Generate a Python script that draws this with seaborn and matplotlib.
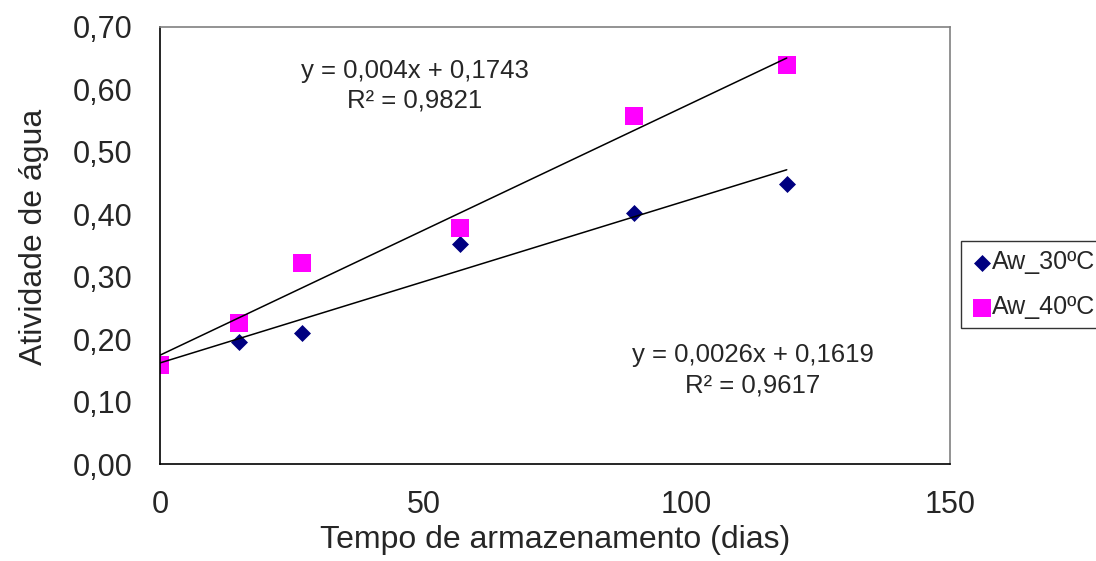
import numpy as np
import pandas as pd
import matplotlib
matplotlib.use("Agg")
import matplotlib.pyplot as plt
import seaborn as sns

# dados
dias = [0, 15, 27, 57, 90, 119]
aw_30 = [0.158, 0.195, 0.210, 0.352, 0.402, 0.449]
aw_40 = [0.158, 0.226, 0.322, 0.378, 0.558, 0.639]

# coeficientes das linhas de tendencia (inclinacao, intercepto)
coef_30 = [0.0026, 0.1619]
coef_40 = [0.004, 0.1743]
eq_30 = "y = 0,0026x + 0,1619\nR² = 0,9617"
eq_40 = "y = 0,004x + 0,1743\nR² = 0,9821"

df30 = pd.DataFrame({"dias": dias, "aw": aw_30})
df40 = pd.DataFrame({"dias": dias, "aw": aw_40})

sns.set_style("white")
plt.rcParams["font.family"] = ["Liberation Sans", "DejaVu Sans"]

fig = plt.figure(figsize=(10.96, 5.61), dpi=100)
ax = fig.add_axes([0.146, 0.1729, 0.7208, 0.779])

sns.scatterplot(data=df30, x="dias", y="aw", marker="D", color="#000080",
                s=75, linewidth=0, ax=ax, zorder=2, label="Aw_30ºC")
sns.scatterplot(data=df40, x="dias", y="aw", marker="s", color="#FF00FF",
                s=150, linewidth=0, ax=ax, zorder=2, label="Aw_40ºC")

# linhas de tendencia
xs = np.array([dias[0], dias[-1]])
for a, b in (coef_30, coef_40):
    ax.plot(xs, a * xs + b, color="black", lw=1.1, zorder=3)

ax.text(48.4, 0.606, eq_40, ha="center", va="center", fontsize=18.5,
        multialignment="center", linespacing=1.32)
ax.text(112.6, 0.150, eq_30, ha="center", va="center", fontsize=18.5,
        multialignment="center", linespacing=1.32)

ax.set_xlim(0, 150)
ax.set_ylim(0, 0.70)
ax.set_xticks([0, 50, 100, 150])
yt = np.arange(0, 0.71, 0.1)
ax.set_yticks(yt)
ax.set_yticklabels([f"{v:.2f}".replace(".", ",") for v in yt])
ax.tick_params(axis="both", labelsize=22, length=0)
ax.tick_params(axis="y", pad=20)
ax.tick_params(axis="x", pad=19)
ax.set_xlabel("Tempo de armazenamento (dias)", fontsize=23, labelpad=3)
ax.set_ylabel("Atividade de água", fontsize=23)
ax.yaxis.set_label_coords(-0.140, 0.52)

for side in ["left", "bottom"]:
    ax.spines[side].set_color("black")
    ax.spines[side].set_linewidth(1.2)
for side in ["top", "right"]:
    ax.spines[side].set_color("#808080")
    ax.spines[side].set_linewidth(1.2)

leg = ax.legend(loc="center left", bbox_to_anchor=(1.014, 0.41), fontsize=18,
                frameon=True, fancybox=False, edgecolor="black",
                handletextpad=-0.1, handlelength=1.0, borderpad=0.35,
                labelspacing=0.85, borderaxespad=0)
leg.get_frame().set_linewidth(1.0)

plt.savefig("out.png", dpi=100)
